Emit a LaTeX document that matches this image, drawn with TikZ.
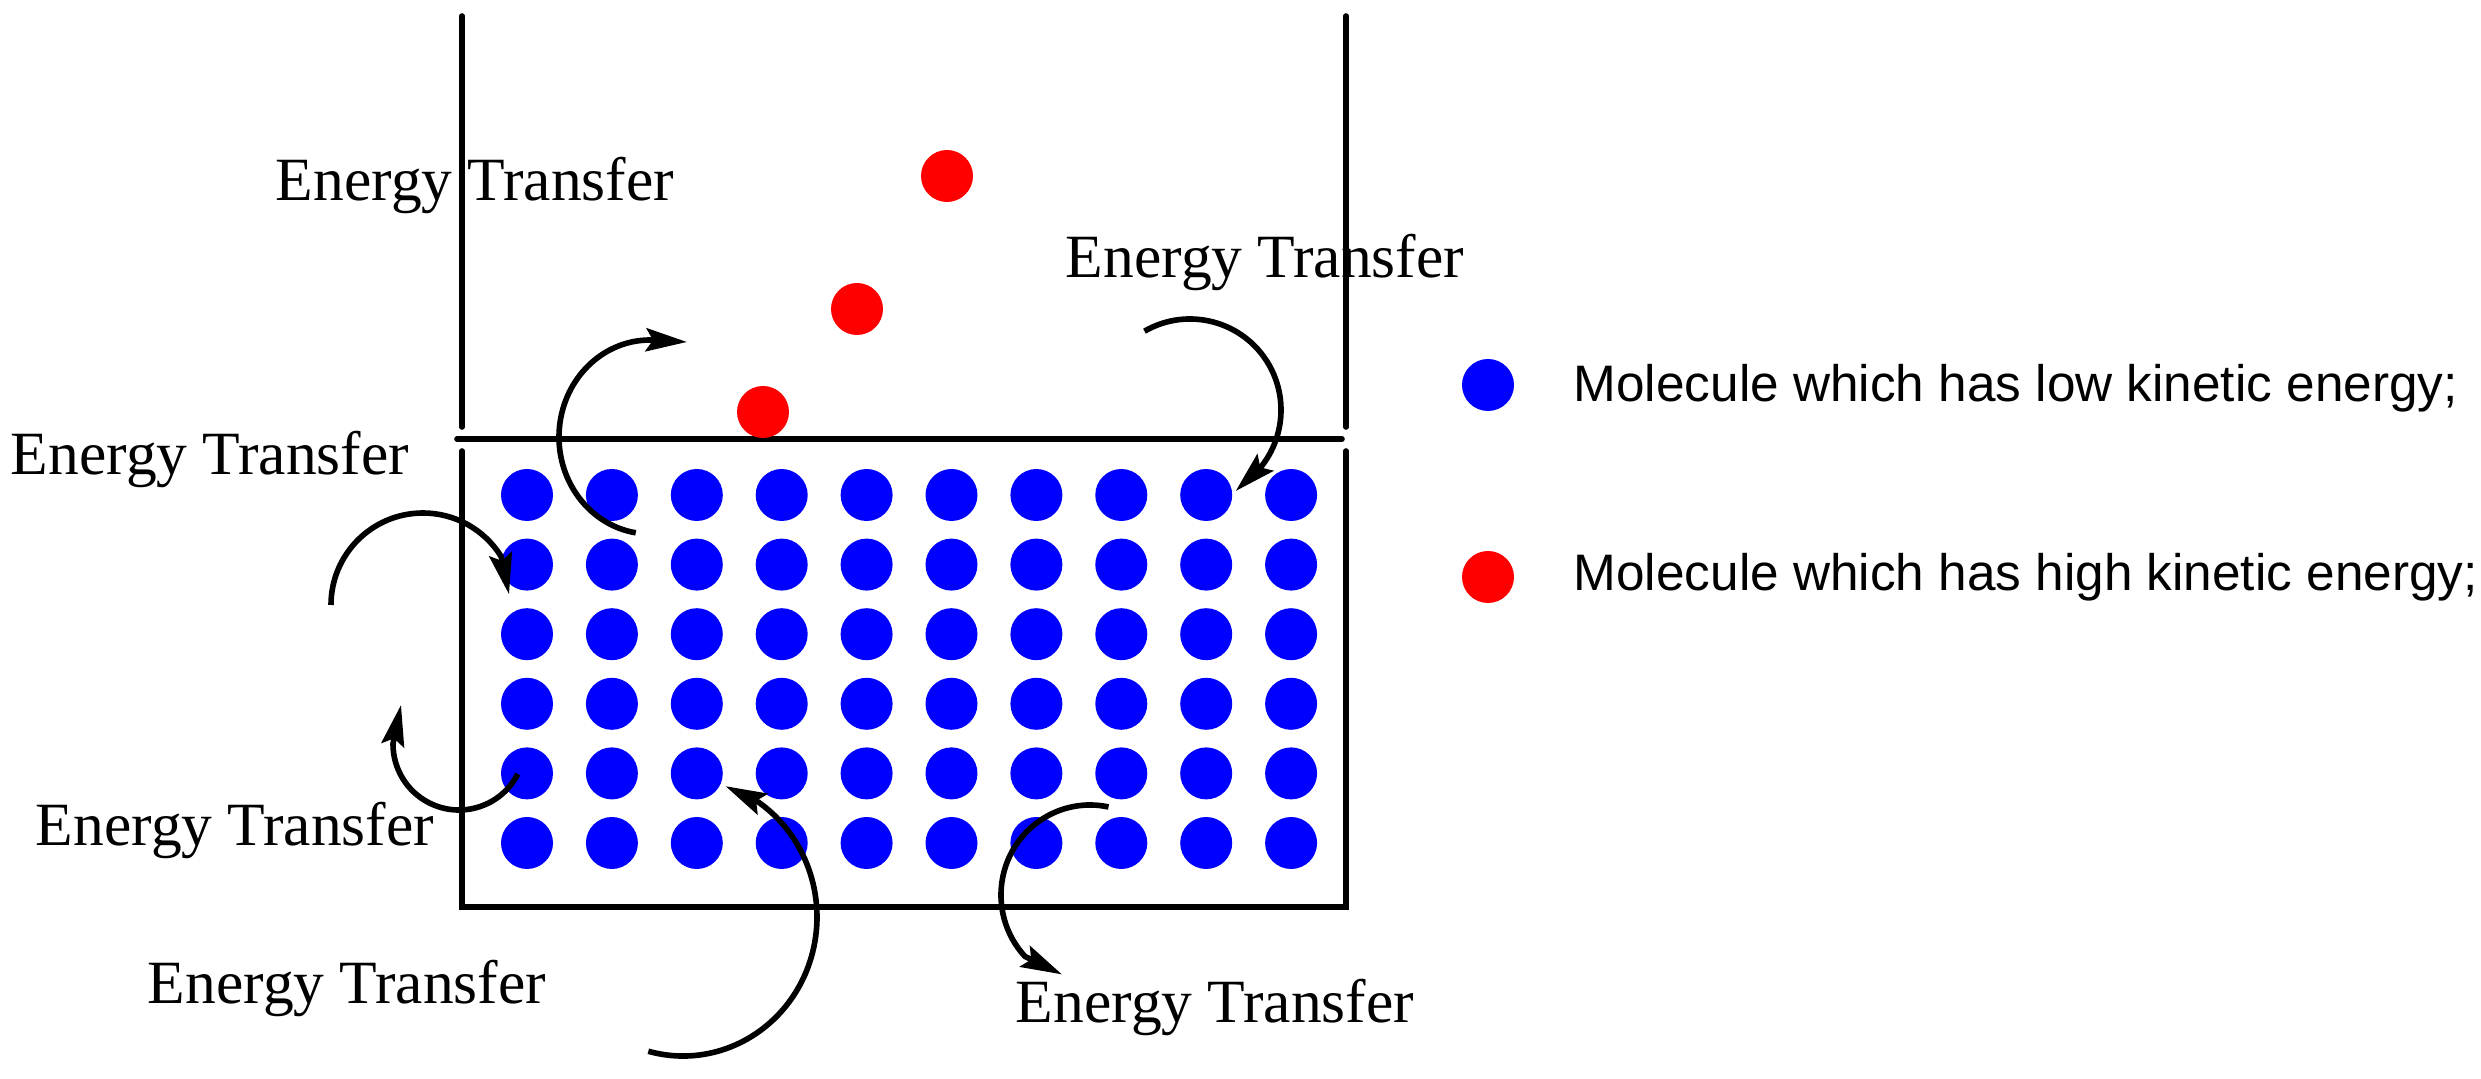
\documentclass[tikz,border=0pt]{standalone}
\usepackage{fontspec}
\setmainfont{Liberation Serif}
\newfontfamily\legendfont{Liberation Sans}
\usepackage{tikz}
\usetikzlibrary{arrows.meta}

\tikzset{
  wall/.style={line width=1.6pt, line cap=round},
  cold/.style={circle, fill=blue, inner sep=0pt, minimum size=0.52cm},
  hot/.style={circle, fill=red, inner sep=0pt, minimum size=0.52cm},
  swirl/.style={line width=1.6pt, -{Stealth[length=0.41cm, width=0.23cm, inset=0.07cm]}},
  etext/.style={anchor=base, inner sep=0pt, font=\fontsize{17.5}{20}\selectfont},
  ltext/.style={anchor=base west, inner sep=0pt, font=\legendfont\fontsize{14.6}{17}\selectfont}
}

\begin{document}
\begin{tikzpicture}
    \useasboundingbox (0,0) rectangle (24.81,10.79);
    % vessel
    \draw[wall] (4.62,10.63) to (4.62,6.52);
    \draw[wall] (13.46,10.63) to (13.46,6.52);
    \draw[wall] (4.57,6.40) to (13.42,6.40);
    \draw[wall] (4.62,6.28) -- (4.62,1.72) -- (13.46,1.72) -- (13.46,6.28);
    % liquid molecules
    \foreach \i in {0,...,9}
      \foreach \j in {0,...,5}
        \node[cold] (c-\i-\j) at ({5.27+0.849*\i},{5.84-0.696*\j}) {};
    % vapour molecules
    \node[hot] (h1) at (9.47,9.03) {};
    \node[hot] (h2) at (8.57,7.70) {};
    \node[hot] (h3) at (7.63,6.67) {};
    % arrows
    \coordinate (sa) at (6.50,6.42);
    \coordinate (sb) at (11.90,6.69);
    \coordinate (sc) at (4.23,4.74);
    \coordinate (sd) at (4.59,3.35);
    \coordinate (se) at (6.83,1.62);
    \coordinate (sf) at (10.90,1.84);
    \draw[swirl] ([shift={(261:0.91 and 0.97)}]sa) arc[start angle=261, end angle=90, x radius=0.91, y radius=0.97] -- ++(0.37,-0.02);
    \draw[swirl] ([shift={(120:0.91)}]sb) arc[start angle=120, end angle=-38, radius=0.91] -- ++(-0.26,-0.25);
    \draw[swirl] ([shift={(180:0.92)}]sc) arc[start angle=180, end angle=32, radius=0.92] -- ++(0.08,-0.38);
    \draw[swirl] ([shift={(-27:0.66)}]sd) arc[start angle=-27, end angle=-180, radius=0.66] -- ++(0.08,0.39);
    \draw[swirl] ([shift={(255:1.34 and 1.39)}]se) arc[start angle=255, end angle=415.7, x radius=1.34, y radius=1.39] -- ++(-0.33,0.16);
    \draw[swirl] ([shift={(78:0.89 and 0.90)}]sf) arc[start angle=78, end angle=223, x radius=0.89, y radius=0.90] -- ++(0.37,-0.18);
    % labels
    \node[etext] (t1) at (4.75,8.78) {Energy Transfer};
    \node[etext] (t2) at (12.65,8.01) {Energy Transfer};
    \node[etext] (t3) at (2.10,6.04) {Energy Transfer};
    \node[etext] (t4) at (2.35,2.33) {Energy Transfer};
    \node[etext] (t5) at (3.47,0.75) {Energy Transfer};
    \node[etext] (t6) at (12.15,0.56) {Energy Transfer};
    % legend
    \node[cold] (kc) at (14.88,6.94) {};
    \node[hot] (kh) at (14.88,5.02) {};
    \node[ltext] (lc) at (15.73,6.77) {Molecule which has low kinetic energy;};
    \node[ltext] (lh) at (15.73,4.88) {Molecule which has high kinetic energy;};
\end{tikzpicture}
\end{document}
